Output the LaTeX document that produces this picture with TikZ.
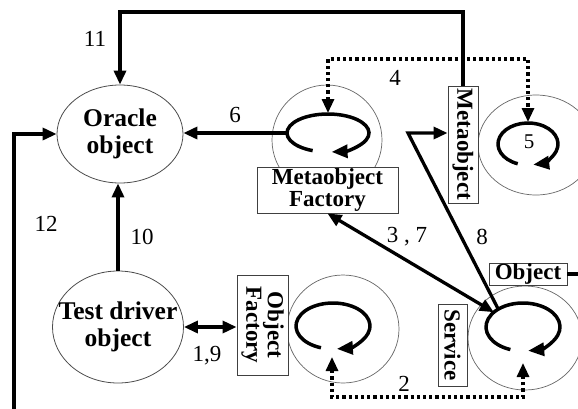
\documentclass[tikz,border=0pt]{standalone}
\usepackage{fontspec}
\setmainfont{Liberation Serif}
\usetikzlibrary{shapes.geometric,arrows.meta,calc}
\begin{document}
\begin{tikzpicture}[x=1pt,y=-1pt,
  >={Triangle[length=14pt,width=12pt]},
  ring/.style={ellipse, draw=black!60, line width=0.7pt, inner sep=0pt},
  objshape/.style={ellipse, draw=black!70, line width=0.8pt, inner sep=0pt},
  namebox/.style={rectangle, draw=black!75, line width=0.9pt, fill=white, inner sep=0pt,
    align=center, font=\fontsize{23}{21.5}\selectfont\bfseries},
  bigtext/.style={align=center, inner sep=0pt, font=\fontsize{25.5}{27}\selectfont\bfseries},
  numlabel/.style={inner sep=0pt, font=\fontsize{23}{25}\selectfont},
  conn/.style={line width=3.3pt},
  dotconn/.style={line width=3.1pt, dash pattern=on 3.1pt off 3.1pt},
  spin/.style={line width=3.5pt, -{Triangle[length=16pt,width=13pt]}},
]
\useasboundingbox (0,0) rectangle (578,408);

% objects drawn as ellipses
\node[objshape, minimum width=126pt, minimum height=98pt] (oracle) at (120,134) {};
\node[bigtext] (oracletxt) at (oracle) {Oracle\\object};
\node[objshape, minimum width=131pt, minimum height=112pt] (driver) at (118,327) {};
\node[bigtext] (drivertxt) at (driver) {Test driver\\object};

% object rings
\node[ring, minimum width=110pt, minimum height=110pt] (mfring) at (327,140) {};
\node[ring, minimum width=116pt, minimum height=100pt] (ring5) at (536,145) {};
\node[ring, minimum width=112pt, minimum height=108pt] (ofring) at (343,329) {};
\node[ring, minimum width=114pt, minimum height=104pt] (svring) at (525,338) {};

% interface boxes
\node[namebox, minimum width=141pt, minimum height=46pt] (mfbox) at (327.5,190) {Metaobject\\Factory};
\node[namebox, rotate=-90, minimum width=117pt, minimum height=30pt] (mobox) at (463,144.5) {Metaobject};
\node[namebox, rotate=-90, minimum width=100pt, minimum height=51pt] (ofbox) at (262.5,325) {Object\\Factory};
\node[namebox, rotate=-90, minimum width=82pt, minimum height=29pt] (svbox) at (452.5,345) {Service};
\node[namebox, minimum width=78pt, minimum height=22pt] (objbox) at (528,274) {Object};

% activity loops
\coordinate (mfc) at (328,133);
\coordinate (c5) at (528,144);
\coordinate (ofc) at (333,326);
\coordinate (svc) at (523,327);
\draw[spin] ($(mfc)+(248:41pt and 19pt)$) arc[start angle=248, end angle=-85, x radius=41pt, y radius=19pt];
\draw[spin] ($(c5)+(250:30pt and 21pt)$) arc[start angle=250, end angle=-80, x radius=30pt, y radius=21pt];
\draw[spin] ($(ofc)+(251:37pt and 23pt)$) arc[start angle=251, end angle=-84, x radius=37pt, y radius=23pt];
\draw[spin] ($(svc)+(250:37pt and 24pt)$) arc[start angle=250, end angle=-82, x radius=37pt, y radius=24pt];
\node[inner sep=0pt, font=\fontsize{21}{23}\selectfont] (five) at (529,142) {5};

% connection points
\coordinate (mfl) at ($(mfc)+(-41pt,0pt)$);
\coordinate (mftop) at ($(mfc)+(0pt,20pt)$);
\coordinate (top5) at (528,122);
\coordinate (rail4) at (0,59);
\coordinate (rail11) at (0,12);
\coordinate (rail12) at (14,420);
\coordinate (ofin) at (332,357);
\coordinate (svin) at (523,363);
\coordinate (rail2) at (0,397);
\coordinate (sv37) at ($(svc)+(142:37pt and 24pt)$);
\coordinate (sv8) at ($(svc)+(132:37pt and 24pt)$);
\coordinate (bend8) at (408,133);
\coordinate (objend) at (590,274);

% message connectors
\draw[conn,->] (mobox.west) -- (mobox.west |- rail11) -| (oracle.north);
\draw[conn,->] (rail12) |- (oracle.west);
\draw[conn,->] (driver.north) -- (driver.north |- oracle.south);
\draw[conn,->] (mfl) -- (mfl -| oracle.east);
\draw[conn,<->] (driver.east) -- (driver.east -| ofbox.south);
\draw[conn,<->] (mfbox.south) -- (sv37);
\draw[conn,->] (sv8) -- (bend8) -- (bend8 -| mobox.south);
\draw[conn] (objbox.east) -- (objend);
\draw[dotconn,<->] (mftop) -- (mftop |- rail4) -- (top5 |- rail4) -- (top5);
\draw[dotconn,<->] (ofin) -- (ofin |- rail2) -- (svin |- rail2) -- (svin);

% step numbers
\node[numlabel] (n11) at (95,39) {11};
\node[numlabel] (n6) at (235,115) {6};
\node[numlabel] (n4) at (395,78) {4};
\node[numlabel] (n12) at (46,224) {12};
\node[numlabel] (n10) at (142,237) {10};
\node[numlabel] (n37) at (407,237) {3 , 7};
\node[numlabel] (n8) at (482,237) {8};
\node[numlabel] (n19) at (207,356) {1,9};
\node[numlabel] (n2) at (404,384) {2};
\end{tikzpicture}
\end{document}
